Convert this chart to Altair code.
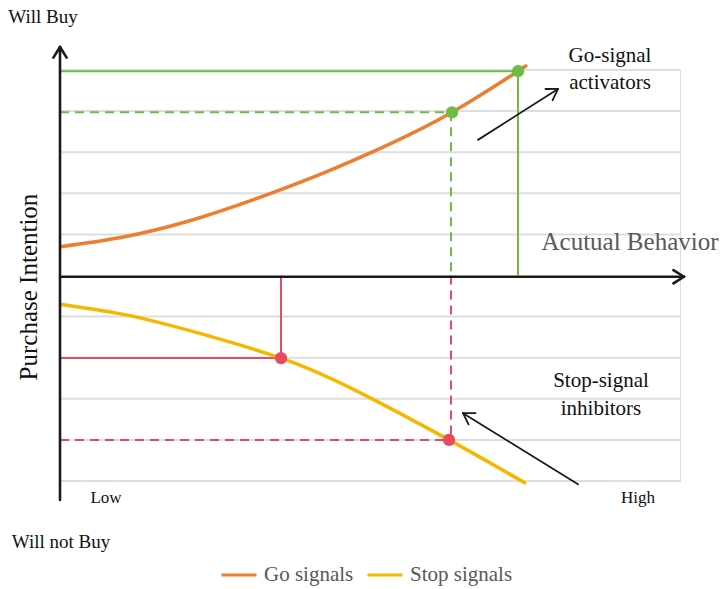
import altair as alt
import pandas as pd
import numpy as np

# ---------------- data (chart units: x 0..620, y -5..5) ----------------
go_x = [0, 62, 128, 195, 262, 328, 392, 458, 461]
go_y = [0.70, 0.93, 1.32, 1.86, 2.48, 3.18, 3.97, 4.97, 5.03]
stop_x = [0, 62, 128, 221, 295, 389, 466]
stop_y = [-0.70, -0.94, -1.33, -2.01, -2.79, -4.00, -5.06]
series_names = ["Go signals", "Stop signals"]
series_colors = ["#ED7D31", "#F5B800"]

grid_y = [-5, -4, -3, -2, -1, 1, 2, 3, 4, 5]

# guide segments: x, x2, y, y2, colour, style
seg_x = [0, 458, 0, 391, 221, 0, 391, 0]
seg_x2 = [458, 458, 391, 391, 221, 221, 391, 389]
seg_y = [4.97, 4.97, 3.97, 3.97, 0, -2.01, 0, -4.00]
seg_y2 = [4.97, 0, 3.97, 0, -2.01, -2.01, -4.00, -4.00]
seg_col = ["#6CBD45", "#6CBD45", "#6CBD45", "#6CBD45", "#E84A5F", "#E84A5F", "#E84A5F", "#E84A5F"]
seg_style = ["solid", "solid", "dashed", "dashed", "solid", "solid", "dashed", "dashed"]

dot_x = [458, 392, 221, 389]
dot_y = [4.97, 3.97, -2.01, -4.00]
dot_col = ["#6CBD45", "#6CBD45", "#E84A5F", "#E84A5F"]

# arrows: tail -> tip
arr_x0 = [0, 0, 418, 518]
arr_y0 = [-5.46, -0.03, 3.30, -5.08]
arr_x1 = [0, 624, 498, 403]
arr_y1 = [5.56, -0.03, 4.54, -3.35]
arr_w = [2.6, 2.6, 1.8, 1.8]

# annotations
ann_text = ["Will Buy", "Will not Buy", "Purchase Intention", "Acutual Behavior",
            "Go-signal", "activators", "Stop-signal", "inhibitors", "Low", "High"]
ann_x = [-17, 1, -23, 570, 550, 550, 541, 541, 46, 578]
ann_y = [6.14, -6.63, -0.28, 0.62, 5.19, 4.54, -2.71, -3.39, -5.54, -5.54]
ann_size = [19, 19, 25, 25, 21, 21, 21, 21, 17, 17]
ann_angle = [0, 0, 270, 0, 0, 0, 0, 0, 0, 0]
ann_color = ["#111111", "#111111", "#111111", "#595959", "#111111", "#111111",
             "#111111", "#111111", "#111111", "#111111"]

# ---------------- layout ----------------
W, H = 620, 411
PX_PER_Y = H / 10.0
FONT = "Liberation Serif"

xs = alt.Scale(domain=[0, 620], nice=False, zero=False)
ys = alt.Scale(domain=[-5, 5], nice=False, zero=False)

curves = pd.DataFrame({
    "x": go_x + stop_x,
    "y": go_y + stop_y,
    "series": [series_names[0]] * len(go_x) + [series_names[1]] * len(stop_x),
})

grid = pd.DataFrame({"x": 0, "x2": 620, "y": grid_y})
segs = pd.DataFrame({"x": seg_x, "x2": seg_x2, "y": seg_y, "y2": seg_y2,
                     "col": seg_col, "style": seg_style})
dots = pd.DataFrame({"x": dot_x, "y": dot_y, "col": dot_col})

# arrow shafts and chevron heads
rows = []
for x0, y0, x1, y1, w in zip(arr_x0, arr_y0, arr_x1, arr_y1, arr_w):
    rows.append({"x": x0, "y": y0, "x2": x1, "y2": y1, "w": w})
    vx, vy = (x0 - x1), -(y0 - y1) * PX_PER_Y
    n = np.hypot(vx, vy)
    ux, uy = vx / n, vy / n
    L = 12.5
    for a in (np.radians(32), -np.radians(32)):
        rx = ux * np.cos(a) - uy * np.sin(a)
        ry = ux * np.sin(a) + uy * np.cos(a)
        hx = x1 + L * rx
        hy = y1 - L * ry / PX_PER_Y
        rows.append({"x": x1, "y": y1, "x2": hx, "y2": hy, "w": w})
arrows = pd.DataFrame(rows)

ann = pd.DataFrame({"text": ann_text, "x": ann_x, "y": ann_y, "size": ann_size,
                    "angle": ann_angle, "col": ann_color})

grid_layer = alt.Chart(grid).mark_rule(color="#dedede", strokeWidth=2).encode(
    x=alt.X("x:Q", scale=xs, axis=None), x2="x2:Q",
    y=alt.Y("y:Q", scale=ys, axis=None))

seg_layer = alt.Chart(segs).mark_rule(strokeWidth=2).encode(
    x=alt.X("x:Q", scale=xs, axis=None), x2="x2:Q",
    y=alt.Y("y:Q", scale=ys, axis=None), y2="y2:Q",
    color=alt.Color("col:N", scale=None),
    strokeDash=alt.StrokeDash("style:N", scale=alt.Scale(domain=["solid", "dashed"],
                                                         range=[[1, 0], [9, 6]]), legend=None))

curve_layer = alt.Chart(curves).mark_line(strokeWidth=3.5, interpolate="natural").encode(
    x=alt.X("x:Q", scale=xs, axis=None),
    y=alt.Y("y:Q", scale=ys, axis=None),
    color=alt.Color("series:N", scale=alt.Scale(domain=series_names, range=series_colors),
                    legend=alt.Legend(title=None, orient="none", direction="horizontal",
                                      legendX=160, legendY=486, symbolType="stroke",
                                      symbolSize=1225, symbolStrokeWidth=3,
                                      labelFont=FONT, labelFontSize=21, labelColor="#595959",
                                      labelOffset=6, columnPadding=7, padding=0)),
)

dot_layer = alt.Chart(dots).mark_circle(size=150, opacity=1).encode(
    x=alt.X("x:Q", scale=xs, axis=None),
    y=alt.Y("y:Q", scale=ys, axis=None),
    color=alt.Color("col:N", scale=None))

arrow_layer = alt.Chart(arrows).mark_rule(color="#1a1a1a", strokeCap="round").encode(
    x=alt.X("x:Q", scale=xs, axis=None), x2="x2:Q",
    y=alt.Y("y:Q", scale=ys, axis=None), y2="y2:Q",
    strokeWidth=alt.StrokeWidth("w:Q", scale=None))

text_layer = alt.Chart(ann).mark_text(font=FONT, align="center", baseline="alphabetic").encode(
    x=alt.X("x:Q", scale=xs, axis=None),
    y=alt.Y("y:Q", scale=ys, axis=None),
    text="text:N",
    size=alt.Size("size:Q", scale=None),
    angle=alt.Angle("angle:Q", scale=None),
    color=alt.Color("col:N", scale=None))

chart = alt.layer(grid_layer, seg_layer, curve_layer, dot_layer, arrow_layer, text_layer).resolve_scale(
    color="independent"
).properties(
    width=W, height=H,
    autosize=alt.AutoSizeParams(type="none"),
    padding={"left": 60, "top": 70, "right": 45, "bottom": 108},
).configure_view(stroke=None).configure_legend(
    labelFont=FONT, labelFontSize=21, labelColor="#595959"
).configure(background="white")

chart.save("out.html", embed_options={"renderer": "svg", "actions": False})
